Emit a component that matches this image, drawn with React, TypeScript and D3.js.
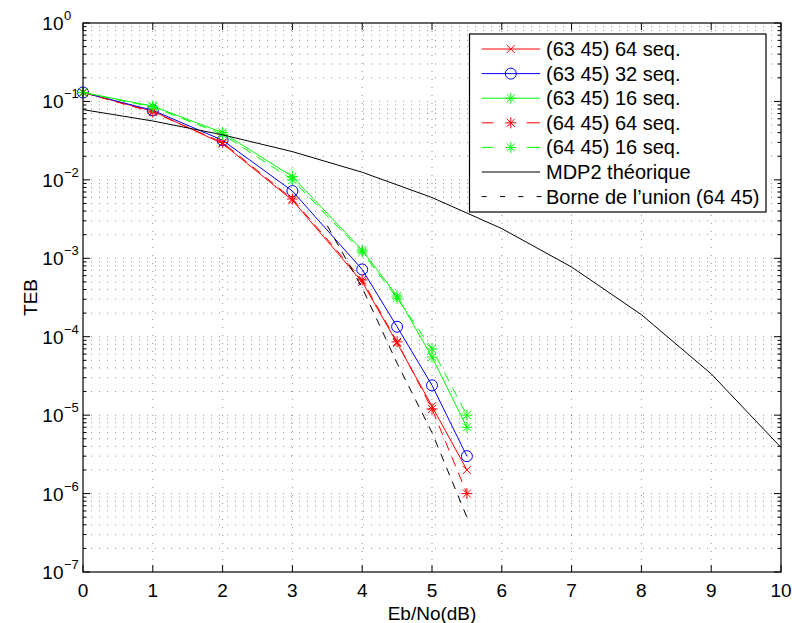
import React from "react";
import * as d3 from "d3";

// ---- data ----
const EBNO = [0, 1, 2, 3, 4, 4.5, 5, 5.5];
const S63_64 = [0.13, 0.075, 0.029, 5.5e-3, 5.0e-4, 8.3e-5, 1.3e-5, 2e-6];
const S63_32 = [0.13, 0.077, 0.032, 7.2e-3, 7.2e-4, 1.34e-4, 2.4e-5, 3e-6];
const S63_16 = [0.13, 0.087, 0.04, 1.1e-2, 1.27e-3, 3.3e-4, 5.5e-5, 7e-6];
const S64_64 = [0.13, 0.073, 0.03, 5.7e-3, 5.3e-4, 8.6e-5, 1.2e-5, 1e-6];
const S64_16 = [0.13, 0.085, 0.038, 1.0e-2, 1.2e-3, 3.1e-4, 7e-5, 1e-5];
const MDP2_X = [0, 1, 2, 3, 4, 5, 6, 7, 8, 9, 10];
const MDP2 = [0.0786, 0.0563, 0.0375, 0.0229, 0.0125, 0.00595, 0.00239, 7.73e-4, 1.91e-4, 3.36e-5, 3.87e-6];
const UNION_X = [3.5, 4, 4.5, 5, 5.5];
const UNION = [2.6e-3, 4.2e-4, 4.6e-5, 6e-6, 5e-7];
const X_TICKS = [0, 1, 2, 3, 4, 5, 6, 7, 8, 9, 10];
const Y_EXP = [0, -1, -2, -3, -4, -5, -6, -7];
const LEGEND_LABELS = [
  "(63 45) 64 seq.",
  "(63 45) 32 seq.",
  "(63 45) 16 seq.",
  "(64 45) 64 seq.",
  "(64 45) 16 seq.",
  "MDP2 théorique",
  "Borne de l\u2019union (64 45)",
];

type Series = { xs: number[]; ys: number[]; color: string; dash: string | null; marker: string | null };

const SERIES: Series[] = [
  { xs: EBNO, ys: S63_64, color: "#ff0000", dash: null, marker: "x" },
  { xs: EBNO, ys: S63_32, color: "#0000ff", dash: null, marker: "o" },
  { xs: EBNO, ys: S63_16, color: "#00ff00", dash: null, marker: "*" },
  { xs: EBNO, ys: S64_64, color: "#ff0000", dash: "10,7", marker: "*" },
  { xs: EBNO, ys: S64_16, color: "#00ff00", dash: "10,7", marker: "*" },
  { xs: MDP2_X, ys: MDP2, color: "#000000", dash: null, marker: null },
  { xs: UNION_X, ys: UNION, color: "#000000", dash: "8,7", marker: null },
];

const W = 792, H = 623;
const L = 83, R = 781, T = 23, B = 572;
const FONT = "'Liberation Sans', Arial, Helvetica, sans-serif";

function Marker({ type, x, y, color }: { type: string; x: number; y: number; color: string }) {
  if (type === "o") return <circle cx={x} cy={y} r={5.5} fill="none" stroke={color} strokeWidth={1} />;
  if (type === "x") {
    const s = 4;
    return <path d={`M${x - s},${y - s}L${x + s},${y + s}M${x - s},${y + s}L${x + s},${y - s}`} stroke={color} strokeWidth={1} fill="none" />;
  }
  const s = 5.5, d = 4;
  return (
    <path
      d={`M${x - s},${y}H${x + s}M${x},${y - s}V${y + s}M${x - d},${y - d}L${x + d},${y + d}M${x - d},${y + d}L${x + d},${y - d}`}
      stroke={color}
      strokeWidth={1}
      fill="none"
    />
  );
}

export default function App() {
  const x = d3.scaleLinear().domain([0, 10]).range([L, R]);
  const y = d3.scaleLog().domain([1e-7, 1]).range([B, T]);
  const line = d3.line<[number, number]>().x((d) => x(d[0])).y((d) => y(d[1]));

  const minorVals: number[] = [];
  for (let e = -7; e < 0; e++) for (let m = 2; m <= 9; m++) minorVals.push(m * Math.pow(10, e));
  const decades = Y_EXP.map((e) => Math.pow(10, e));

  const gridStyle = { stroke: "#000", strokeWidth: 0.8, strokeDasharray: "1,7", opacity: 0.55 };

  const legX0 = 469.5, legY0 = 34, legW = 296.5, legH = 178;
  const rowY = (i: number) => 49 + i * 24.6;

  return (
    <svg width={W} height={H} style={{ position: "absolute", left: 0, top: 0, background: "#fff" }} fontFamily={FONT}>
      <rect x={0} y={0} width={W} height={H} fill="#fff" />
      {/* grid */}
      <g>
        {X_TICKS.filter((t) => t > 0 && t < 10).map((t) => (
          <line key={"vx" + t} x1={x(t)} x2={x(t)} y1={T} y2={B} {...gridStyle} />
        ))}
        {decades.concat(minorVals).filter((v) => v > 1e-7 && v < 1).map((v, i) => (
          <line key={"hy" + i} x1={L} x2={R} y1={y(v)} y2={y(v)} {...gridStyle} />
        ))}
      </g>
      {/* series */}
      {SERIES.map((s, i) => {
        const pts = s.xs.map((xv, j) => [xv, s.ys[j]] as [number, number]);
        return (
          <g key={"s" + i}>
            <path d={line(pts) || ""} fill="none" stroke={s.color} strokeWidth={1} strokeDasharray={s.dash || undefined} />
            {s.marker && pts.map((p, j) => <Marker key={j} type={s.marker as string} x={x(p[0])} y={y(p[1])} color={s.color} />)}
          </g>
        );
      })}
      {/* axes box */}
      <rect x={L} y={T} width={R - L} height={B - T} fill="none" stroke="#000" strokeWidth={1.2} />
      {/* x ticks */}
      {X_TICKS.map((t) => (
        <g key={"xt" + t}>
          <line x1={x(t)} x2={x(t)} y1={B} y2={B - 7} stroke="#000" />
          <line x1={x(t)} x2={x(t)} y1={T} y2={T + 7} stroke="#000" />
          <text x={x(t)} y={597} textAnchor="middle" fontSize={19}>{t}</text>
        </g>
      ))}
      {/* y ticks */}
      {decades.map((v, i) => (
        <g key={"yt" + i}>
          <line x1={L} x2={L + 7} y1={y(v)} y2={y(v)} stroke="#000" />
          <line x1={R} x2={R - 7} y1={y(v)} y2={y(v)} stroke="#000" />
          <text x={63.5} y={y(v) + 7} textAnchor="end" fontSize={19}>10</text>
          <text x={64} y={y(v) - 3} textAnchor="start" fontSize={13}>{Y_EXP[i] === 0 ? "0" : "\u2212" + Math.abs(Y_EXP[i])}</text>
        </g>
      ))}
      {minorVals.map((v, i) => (
        <g key={"ym" + i}>
          <line x1={L} x2={L + 3.5} y1={y(v)} y2={y(v)} stroke="#000" />
          <line x1={R} x2={R - 3.5} y1={y(v)} y2={y(v)} stroke="#000" />
        </g>
      ))}
      {/* axis labels */}
      <text x={(L + R) / 2} y={620} textAnchor="middle" fontSize={19}>Eb/No(dB)</text>
      <text transform={`translate(37,${(T + B) / 2}) rotate(-90)`} textAnchor="middle" fontSize={19}>TEB</text>
      {/* legend */}
      <g>
        <rect x={legX0} y={legY0} width={legW} height={legH} fill="#fff" stroke="#000" strokeWidth={1.2} />
        {SERIES.map((s, i) => {
          const yy = rowY(i);
          const x1 = 481.7, x2 = 540, xm = 510.8;
          let lines;
          if (s.dash && s.marker) {
            lines = (
              <g>
                <line x1={x1} x2={x1 + 11.7} y1={yy} y2={yy} stroke={s.color} />
                <line x1={x2 - 13.3} x2={x2} y1={yy} y2={yy} stroke={s.color} />
              </g>
            );
          } else if (s.dash) {
            lines = (
              <g>
                {[0, 1, 2, 3].map((k) => (
                  <line key={k} x1={x1 + k * 18.3} x2={x1 + k * 18.3 + 5} y1={yy} y2={yy} stroke={s.color} />
                ))}
              </g>
            );
          } else {
            lines = <line x1={x1} x2={x2} y1={yy} y2={yy} stroke={s.color} />;
          }
          return (
            <g key={"lg" + i}>
              {lines}
              {s.marker && <Marker type={s.marker} x={xm} y={yy} color={s.color} />}
              <text x={546} y={yy + 7} fontSize={20}>{LEGEND_LABELS[i]}</text>
            </g>
          );
        })}
      </g>
    </svg>
  );
}
